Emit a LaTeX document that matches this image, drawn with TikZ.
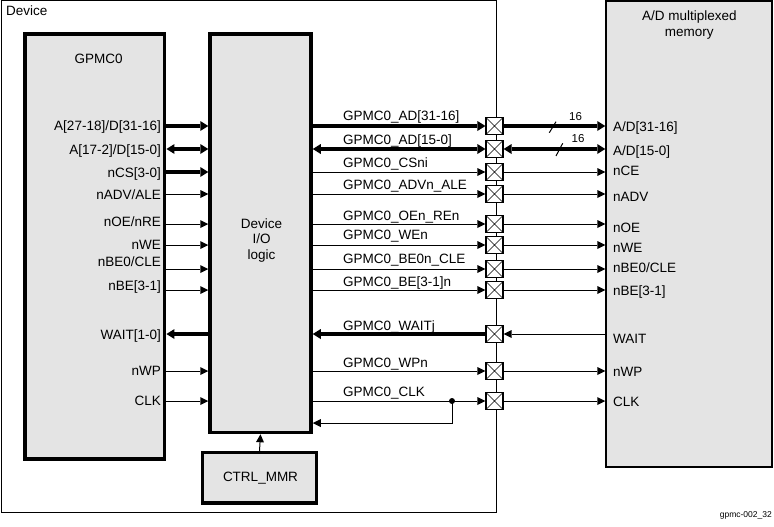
\documentclass[tikz,border=0pt]{standalone}
\usepackage{fontspec}
\setmainfont{Liberation Sans}
\usetikzlibrary{arrows.meta,calc}
\definecolor{boxgray}{RGB}{228,228,228}
\begin{document}
\begin{tikzpicture}[x=1pt,y=-1pt,
  font=\fontsize{13.5}{15.5}\selectfont,
  blk/.style={draw, fill=boxgray, inner sep=0pt, line width=3.5pt},
  thn/.style={line width=1pt},
  thk/.style={line width=3.5pt},
  tipthin/.style={-{Triangle[length=8pt,width=8pt,line width=0pt]}},
  tipthinrev/.style={{Triangle[length=8pt,width=8pt,line width=0pt]}-},
  tipthk/.style={-{Triangle[length=8pt,width=10pt,line width=0pt]}},
  tipthkrev/.style={{Triangle[length=8pt,width=10pt,line width=0pt]}-},
  tipthkboth/.style={{Triangle[length=8pt,width=10pt,line width=0pt]}-{Triangle[length=8pt,width=10pt,line width=0pt]}},
  xbox/.style={draw, fill=white, line width=1.2pt, minimum size=17pt, inner sep=0pt,
    path picture={\draw[line width=0.6pt] (path picture bounding box.south west) -- (path picture bounding box.north east)
      (path picture bounding box.north west) -- (path picture bounding box.south east);}},
  lbl/.style={inner sep=0pt},
]
\useasboundingbox (0,0) rectangle (774,527);

% Frames and blocks
\node[draw, line width=1pt, minimum width=495pt, minimum height=511pt, inner sep=0pt] (dev) at (248.5,256.5) {};
\node[lbl, anchor=base west] (devlbl) at (6,16) {Device};
\node[draw, fill=boxgray, line width=1.5pt, minimum width=166pt, minimum height=466pt, inner sep=0pt] (mem) at (689,234) {};
\node[lbl, align=center] (memlbl) at (689.3,25) {A/D multiplexed\\memory};
\node[blk, minimum width=139.7pt, minimum height=425pt] (gp) at (94.85,246.5) {};
\node[lbl, anchor=base] (gplbl) at (98.7,63.3) {GPMC0};
\node[blk, minimum width=101pt, minimum height=398.5pt] (io) at (260.5,233.25) {};
\node[lbl, align=center] (iolbl) at (261.5,240.5) {Device\\I/O\\logic};
\node[blk, minimum width=114.4pt, minimum height=50.3pt] (ctrl) at (259.5,477.85) {};
\node[lbl, anchor=base] (ctrllbl) at (260.5,481.7) {CTRL\_MMR};
\draw[thn, tipthin] (ctrl.north) -- (io.south);

% Row coordinates
\coordinate (r1) at (0,126);
\coordinate (r2) at (0,149);
\coordinate (r3) at (0,172);
\coordinate (r4) at (0,194);
\coordinate (r5) at (0,224);
\coordinate (r6) at (0,245);
\coordinate (r7) at (0,269);
\coordinate (r8) at (0,290);
\coordinate (r9) at (0,334);
\coordinate (r10) at (0,371);
\coordinate (r11) at (0,401);

% Crossing boxes
\node[xbox] (x1) at (494.5,126) {};
\node[xbox] (x2) at (494.5,149) {};
\node[xbox] (x3) at (494.5,172) {};
\node[xbox] (x4) at (494.5,194) {};
\node[xbox] (x5) at (494.5,224) {};
\node[xbox] (x6) at (494.5,245) {};
\node[xbox] (x7) at (494.5,269) {};
\node[xbox] (x8) at (494.5,290) {};
\node[xbox] (x9) at (494.5,334) {};
\node[xbox] (x10) at (494.5,371) {};
\node[xbox] (x11) at (494.5,401) {};

% Left side: GPMC0 -> IO
\draw[thk, tipthk] (gp.east |- r1) -- (io.west |- r1);
\draw[thk, tipthkboth] (gp.east |- r2) -- (io.west |- r2);
\draw[thk, tipthk] (gp.east |- r3) -- (io.west |- r3);
\draw[thn, tipthin] (gp.east |- r4) -- (io.west |- r4);
\draw[thn, tipthin] (gp.east |- r5) -- (io.west |- r5);
\draw[thn, tipthin] (gp.east |- r6) -- (io.west |- r6);
\draw[thn, tipthin] (gp.east |- r7) -- (io.west |- r7);
\draw[thn, tipthin] (gp.east |- r8) -- (io.west |- r8);
\draw[thk, tipthkrev] (gp.east |- r9) -- (io.west |- r9);
\draw[thn, tipthin] (gp.east |- r10) -- (io.west |- r10);
\draw[thn, tipthin] (gp.east |- r11) -- (io.west |- r11);

\node[lbl, anchor=base east] (gl1) at (161,130) {A[27-18]/D[31-16]};
\node[lbl, anchor=base east] (gl2) at (161,154) {A[17-2]/D[15-0]};
\node[lbl, anchor=base east] (gl3) at (161,177) {nCS[3-0]};
\node[lbl, anchor=base east] (gl4) at (161,199) {nADV/ALE};
\node[lbl, anchor=base east] (gl5) at (161,226.7) {nOE/nRE};
\node[lbl, anchor=base east] (gl6) at (161,249.3) {nWE};
\node[lbl, anchor=base east] (gl7) at (161,266.7) {nBE0/CLE};
\node[lbl, anchor=base east] (gl8) at (161,290) {nBE[3-1]};
\node[lbl, anchor=base east] (gl9) at (161,339.3) {WAIT[1-0]};
\node[lbl, anchor=base east] (gl10) at (161,375.7) {nWP};
\node[lbl, anchor=base east] (gl11) at (161,405) {CLK};

% Right side: IO -> crossing boxes
\draw[thk, tipthk] (io.east |- x1) -- (x1.west);
\draw[thk, tipthkboth] (io.east |- x2) -- (x2.west);
\draw[thn, tipthin] (io.east |- x3) -- (x3.west);
\draw[thn, tipthin] (io.east |- x4) -- (x4.west);
\draw[thn, tipthin] (io.east |- x5) -- (x5.west);
\draw[thn, tipthin] (io.east |- x6) -- (x6.west);
\draw[thn, tipthin] (io.east |- x7) -- (x7.west);
\draw[thn, tipthin] (io.east |- x8) -- (x8.west);
\draw[thk, tipthkrev] (io.east |- x9) -- (x9.west);
\draw[thn, tipthin] (io.east |- x10) -- (x10.west);
\draw[thn, tipthin] (io.east |- x11) -- (x11.west);

\coordinate (clkdot) at (452,401);
\coordinate (fb) at (452,423);
\fill (clkdot) circle (3pt);
\draw[thn, tipthin] (clkdot) -- (fb) -- (io.east |- fb);

\node[lbl, anchor=base west] (sl1) at (343,120.7) {GPMC0\_AD[31-16]};
\node[lbl, anchor=base west] (sl2) at (343,144) {GPMC0\_AD[15-0]};
\node[lbl, anchor=base west] (sl3) at (343,167.3) {GPMC0\_CSni};
\node[lbl, anchor=base west] (sl4) at (343,189.3) {GPMC0\_ADVn\_ALE};
\node[lbl, anchor=base west] (sl5) at (343,220) {GPMC0\_OEn\_REn};
\node[lbl, anchor=base west] (sl6) at (343,239.3) {GPMC0\_WEn};
\node[lbl, anchor=base west] (sl7) at (343,263.3) {GPMC0\_BE0n\_CLE};
\node[lbl, anchor=base west] (sl8) at (343,286) {GPMC0\_BE[3-1]n};
\node[lbl, anchor=base west] (sl9) at (343,330.7) {GPMC0\_WAITj};
\node[lbl, anchor=base west] (sl10) at (343,367.3) {GPMC0\_WPn};
\node[lbl, anchor=base west] (sl11) at (343,396.7) {GPMC0\_CLK};

% Crossing boxes -> memory
\draw[thk, tipthk] (x1.east) -- (mem.west |- x1);
\draw[thk, tipthkboth] (x2.east) -- (mem.west |- x2);
\draw[thn, tipthin] (x3.east) -- (mem.west |- x3);
\draw[thn, tipthin] (x4.east) -- (mem.west |- x4);
\draw[thn, tipthin] (x5.east) -- (mem.west |- x5);
\draw[thn, tipthin] (x6.east) -- (mem.west |- x6);
\draw[thn, tipthin] (x7.east) -- (mem.west |- x7);
\draw[thn, tipthin] (x8.east) -- (mem.west |- x8);
\draw[thn, tipthinrev] (x9.east) -- (mem.west |- x9);
\draw[thn, tipthin] (x10.east) -- (mem.west |- x10);
\draw[thn, tipthin] (x11.east) -- (mem.west |- x11);

% Bus width marks
\coordinate (s1a) at (549.3,132.7);
\coordinate (s1b) at (556,121.7);
\coordinate (s2a) at (556,156);
\coordinate (s2b) at (562.7,143.3);
\draw[thn] (s1a) -- (s1b);
\draw[thn] (s2a) -- (s2b);
\node[lbl, anchor=base west, font=\fontsize{11.5}{13}\selectfont] (w1) at (569,120) {16};
\node[lbl, anchor=base west, font=\fontsize{11.5}{13}\selectfont] (w2) at (571.5,142.7) {16};

% Memory pin labels
\node[lbl, anchor=base west] (ml1) at (613,131.7) {A/D[31-16]};
\node[lbl, anchor=base west] (ml2) at (613,155) {A/D[15-0]};
\node[lbl, anchor=base west] (ml3) at (613,175.7) {nCE};
\node[lbl, anchor=base west] (ml4) at (613,201.7) {nADV};
\node[lbl, anchor=base west] (ml5) at (613,232.3) {nOE};
\node[lbl, anchor=base west] (ml6) at (613,252.3) {nWE};
\node[lbl, anchor=base west] (ml7) at (613,272.3) {nBE0/CLE};
\node[lbl, anchor=base west] (ml8) at (613,295) {nBE[3-1]};
\node[lbl, anchor=base west] (ml9) at (613,343.3) {WAIT};
\node[lbl, anchor=base west] (ml10) at (613,376.7) {nWP};
\node[lbl, anchor=base west] (ml11) at (613,406.7) {CLK};

% Figure id
\node[lbl, anchor=base east, font=\fontsize{8.5}{10}\selectfont] (figid) at (772,517) {gpmc-002\_32};
\end{tikzpicture}
\end{document}
